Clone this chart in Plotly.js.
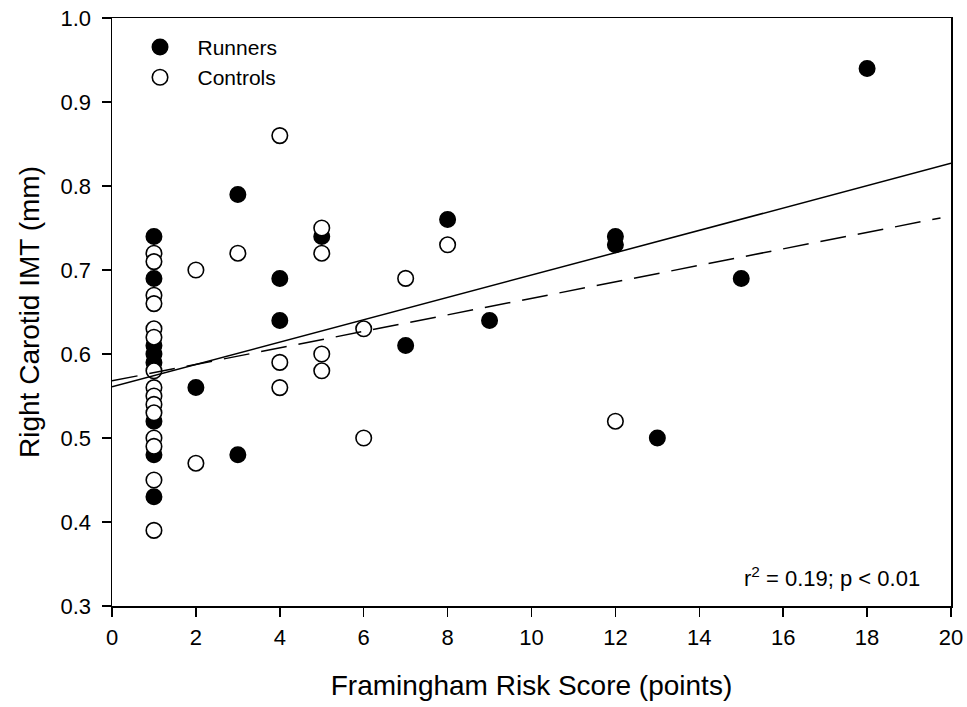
<!DOCTYPE html>
<html>
<head>
<meta charset="utf-8">
<script src="https://cdn.plot.ly/plotly-3.0.1.min.js"></script>
<style>
  html, body { margin: 0; padding: 0; background: #fff; }
  #chart { width: 967px; height: 707px; }
</style>
</head>
<body>
<div id="chart"></div>
<script>
// Runners (filled circles)
const runnersX = [1, 1, 1, 1, 1, 1, 1, 1, 2, 3, 3, 4, 4, 5, 7, 8, 9, 12, 12, 13, 15, 18];
const runnersY = [0.74, 0.69, 0.61, 0.60, 0.59, 0.52, 0.48, 0.43, 0.56, 0.79, 0.48, 0.69, 0.64, 0.74, 0.61, 0.76, 0.64, 0.74, 0.73, 0.50, 0.69, 0.94];

// Controls (open circles)
const controlsX = [1, 1, 1, 1, 1, 1, 1, 1, 1, 1, 1, 1, 1, 1, 1, 2, 2, 3, 4, 4, 4, 5, 5, 5, 5, 6, 6, 7, 8, 12];
const controlsY = [0.72, 0.71, 0.67, 0.66, 0.63, 0.62, 0.58, 0.56, 0.55, 0.54, 0.53, 0.50, 0.49, 0.45, 0.39, 0.70, 0.47, 0.72, 0.86, 0.59, 0.56, 0.75, 0.72, 0.60, 0.58, 0.63, 0.50, 0.69, 0.73, 0.52];

// Regression lines (endpoints)
const solidFitX = [0, 20];
const solidFitY = [0.561, 0.827];
const dashFitX = [0, 19.75];
const dashFitY = [0.568, 0.762];

const xTicks = [0, 2, 4, 6, 8, 10, 12, 14, 16, 18, 20];
const yTicks = [0.3, 0.4, 0.5, 0.6, 0.7, 0.8, 0.9, 1.0];

const font = "Liberation Sans, Arial, sans-serif";
const pad = '\u00a0\u00a0\u00a0';

const traces = [
  {
    x: runnersX, y: runnersY, type: 'scatter', mode: 'markers', name: pad + 'Runners',
    marker: { symbol: 'circle', size: 15.5, color: '#000', line: { color: '#000', width: 1.5 } },
    cliponaxis: false
  },
  {
    x: controlsX, y: controlsY, type: 'scatter', mode: 'markers', name: pad + 'Controls',
    marker: { symbol: 'circle', size: 15.5, color: '#fff', line: { color: '#000', width: 1.6 } },
    cliponaxis: false
  },
  {
    x: solidFitX, y: solidFitY, type: 'scatter', mode: 'lines', showlegend: false,
    line: { color: '#000', width: 1.5 }
  },
  {
    x: dashFitX, y: dashFitY, type: 'scatter', mode: 'lines', showlegend: false,
    line: { color: '#000', width: 1.5, dash: '26px,12px' }
  }
];

const layout = {
  width: 967, height: 707,
  margin: { l: 112, r: 16, t: 18, b: 101 },
  paper_bgcolor: '#fff', plot_bgcolor: '#fff',
  font: { family: font, color: '#000', size: 22 },
  showlegend: true,
  legend: {
    x: 0.0334, y: 0.985, xanchor: 'left', yanchor: 'top',
    bgcolor: 'rgba(0,0,0,0)', borderwidth: 0,
    font: { family: font, size: 21, color: '#000' },
    itemsizing: 'trace', tracegroupgap: 0
  },
  xaxis: {
    range: [0, 20], tickvals: xTicks, ticktext: xTicks.map(String),
    showgrid: false, zeroline: false,
    showline: true, linecolor: '#000', linewidth: 1.5, mirror: true,
    ticks: 'outside', ticklen: 9, tickwidth: 1.5, tickcolor: '#000',
    ticklabelstandoff: 2,
    tickfont: { family: font, size: 22, color: '#000' },
    title: { text: 'Framingham Risk Score (points)', font: { family: font, size: 28, color: '#000' }, standoff: 26 },
    fixedrange: true
  },
  yaxis: {
    range: [0.3, 1.0], tickvals: yTicks, ticktext: yTicks.map(v => v.toFixed(1)),
    showgrid: false, zeroline: false,
    showline: true, linecolor: '#000', linewidth: 1.5, mirror: true,
    ticks: 'outside', ticklen: 9, tickwidth: 1.5, tickcolor: '#000',
    ticklabelstandoff: 6,
    tickfont: { family: font, size: 22, color: '#000' },
    title: { text: 'Right Carotid IMT (mm)', font: { family: font, size: 28, color: '#000' }, standoff: 12 },
    fixedrange: true
  },
  annotations: [
    {
      xref: 'x', yref: 'paper', x: 19.3, y: 0.05, xanchor: 'right', yanchor: 'middle',
      text: 'r<sup>2</sup> = 0.19; p < 0.01', showarrow: false,
      font: { family: font, size: 22, color: '#000' }
    }
  ]
};

Plotly.newPlot('chart', traces, layout, { displayModeBar: false, staticPlot: true });
</script>
</body>
</html>
